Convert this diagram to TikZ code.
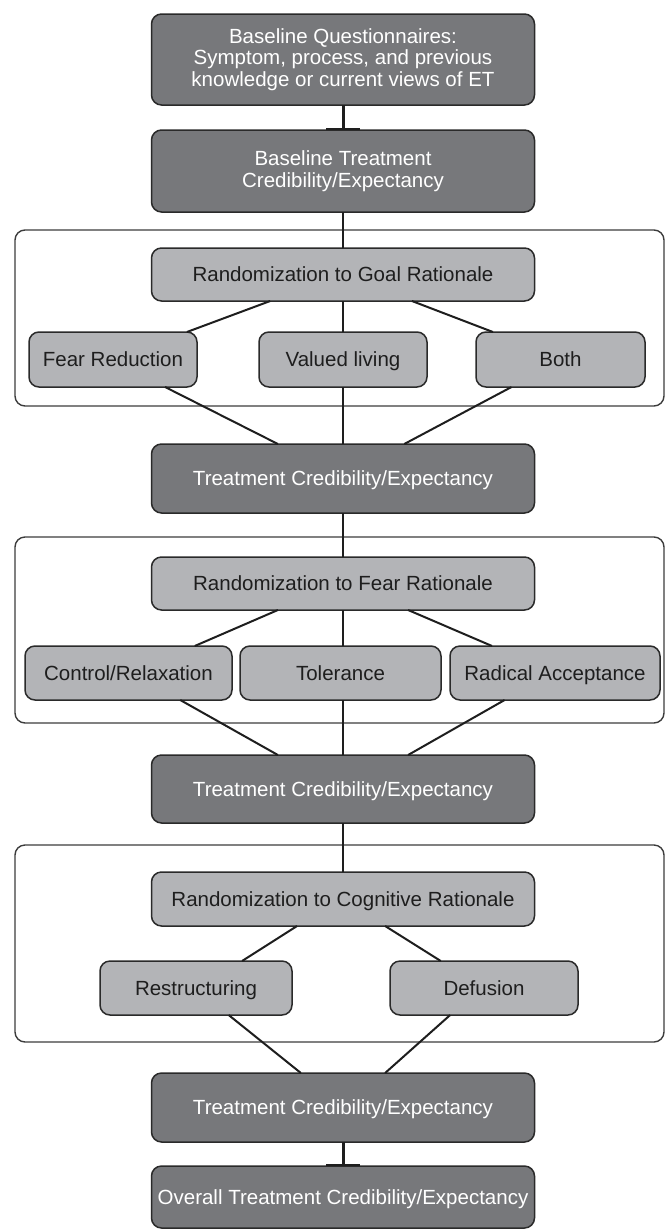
\documentclass[tikz,border=0pt]{standalone}
\usepackage{fontspec}
\setmainfont{Liberation Sans}
\usepackage{tikz}
\usetikzlibrary{arrows.meta,positioning,calc}
\definecolor{DarkFill}{HTML}{77787B}
\definecolor{LightFill}{HTML}{B3B4B7}
\definecolor{EdgeGray}{HTML}{2A2A2A}
\definecolor{FrameGray}{HTML}{3C3C3C}
\definecolor{InkGray}{HTML}{1E1E1E}

\begin{document}
\begin{tikzpicture}[x=1pt,y=-1pt,
  font=\fontsize{20.5}{21.5}\selectfont,
  dark/.style={rectangle,rounded corners=10pt,draw=EdgeGray,line width=1.5pt,fill=DarkFill,text=white,minimum width=383pt,inner sep=0pt,outer sep=0pt,align=center},
  oneline/.style={text height=14.7pt,text depth=0pt},
  light/.style={rectangle,rounded corners=10pt,draw=EdgeGray,line width=1.5pt,fill=LightFill,text=InkGray,minimum height=54pt,inner sep=0pt,outer sep=0pt,align=center,oneline},
  frame/.style={rectangle,rounded corners=10pt,draw=FrameGray,line width=1.4pt,minimum width=649pt},
  link/.style={line width=2pt,draw=InkGray},
  stem/.style={line width=3pt,draw=InkGray,-{Bar[width=34pt,line width=1.6pt]}}]
\useasboundingbox (0,0) rectangle (665,1229);
\node[frame,minimum height=176pt] (goalframe) at (339.5,318) {};
\node[frame,minimum height=186pt] (fearframe) at (339.5,630) {};
\node[frame,minimum height=197pt] (cogframe) at (339.5,943.5) {};
\node[dark,minimum height=91pt] (base) at (343,59.5) {Baseline Questionnaires:\\Symptom, process, and previous\\knowledge or current views of ET};
\node[dark,minimum height=82pt,below=25pt of base] (basecred) {Baseline Treatment\\Credibility/Expectancy};
\node[light,minimum width=383pt,minimum height=53pt,below=36pt of basecred] (goal) {Randomization to Goal Rationale};
\node[light,minimum width=168pt,minimum height=55pt,below=31pt of goal] (valued) {Valued living};
\node[light,minimum width=168pt,minimum height=55pt,left=62pt of valued] (fearred) {Fear Reduction};
\node[light,minimum width=169pt,minimum height=55pt,right=49pt of valued] (both) {Both};
\node[dark,oneline,minimum height=69pt,below=57pt of valued] (treatA) {Treatment Credibility/Expectancy};
\node[light,minimum width=383pt,minimum height=53pt,below=44pt of treatA] (fearrand) {Randomization to Fear Rationale};
\node[light,minimum width=201pt,below=36pt of fearrand,xshift=-2.5pt] (tolerance) {Tolerance};
\node[light,minimum width=207pt,left=8pt of tolerance] (control) {Control/Relaxation};
\node[light,minimum width=210pt,right=9pt of tolerance] (radical) {Radical Acceptance};
\node[dark,oneline,minimum height=68pt,below=55pt of tolerance,xshift=2.5pt] (treatB) {Treatment Credibility/Expectancy};
\node[light,minimum width=383pt,below=49pt of treatB] (cograd) {Randomization to Cognitive Rationale};
\node[light,minimum width=192pt] (restr) at (196,988) {Restructuring};
\node[light,minimum width=188pt] (defusion) at (484,988) {Defusion};
\node[dark,oneline,minimum height=69pt,below=147pt of cograd] (treatC) {Treatment Credibility/Expectancy};
\node[dark,oneline,minimum height=62pt,below=24pt of treatC] (overall) {Overall Treatment Credibility/Expectancy};
\draw[stem] (base) -- (basecred);
\draw[link] (basecred) -- (goal);
\draw[link] ($(goal.south west)!.31!(goal.south east)$) -- ($(fearred.north west)!.94!(fearred.north east)$);
\draw[link] (goal) -- (valued);
\draw[link] ($(goal.south west)!.68!(goal.south east)$) -- ($(both.north west)!.10!(both.north east)$);
\draw[link] ($(fearred.south west)!.81!(fearred.south east)$) -- ($(treatA.north west)!.33!(treatA.north east)$);
\draw[link] (valued) -- (treatA);
\draw[link] ($(both.south west)!.21!(both.south east)$) -- ($(treatA.north west)!.66!(treatA.north east)$);
\draw[link] (treatA) -- (fearrand);
\draw[link] ($(fearrand.south west)!.33!(fearrand.south east)$) -- ($(control.north west)!.82!(control.north east)$);
\draw[link] (fearrand.south) -- (fearrand.south |- tolerance.north);
\draw[link] ($(fearrand.south west)!.67!(fearrand.south east)$) -- ($(radical.north west)!.20!(radical.north east)$);
\draw[link] ($(control.south west)!.75!(control.south east)$) -- ($(treatB.north west)!.33!(treatB.north east)$);
\draw[link] (treatB.north |- tolerance.south) -- (treatB.north);
\draw[link] ($(radical.south west)!.26!(radical.south east)$) -- ($(treatB.north west)!.67!(treatB.north east)$);
\draw[link] (treatB) -- (cograd);
\draw[link] ($(cograd.south west)!.38!(cograd.south east)$) -- ($(restr.north west)!.74!(restr.north east)$);
\draw[link] ($(cograd.south west)!.61!(cograd.south east)$) -- ($(defusion.north west)!.27!(defusion.north east)$);
\draw[link] ($(restr.south west)!.67!(restr.south east)$) -- ($(treatC.north west)!.39!(treatC.north east)$);
\draw[link] ($(defusion.south west)!.32!(defusion.south east)$) -- ($(treatC.north west)!.61!(treatC.north east)$);
\draw[stem] (treatC) -- (overall);
\end{tikzpicture}
\end{document}
